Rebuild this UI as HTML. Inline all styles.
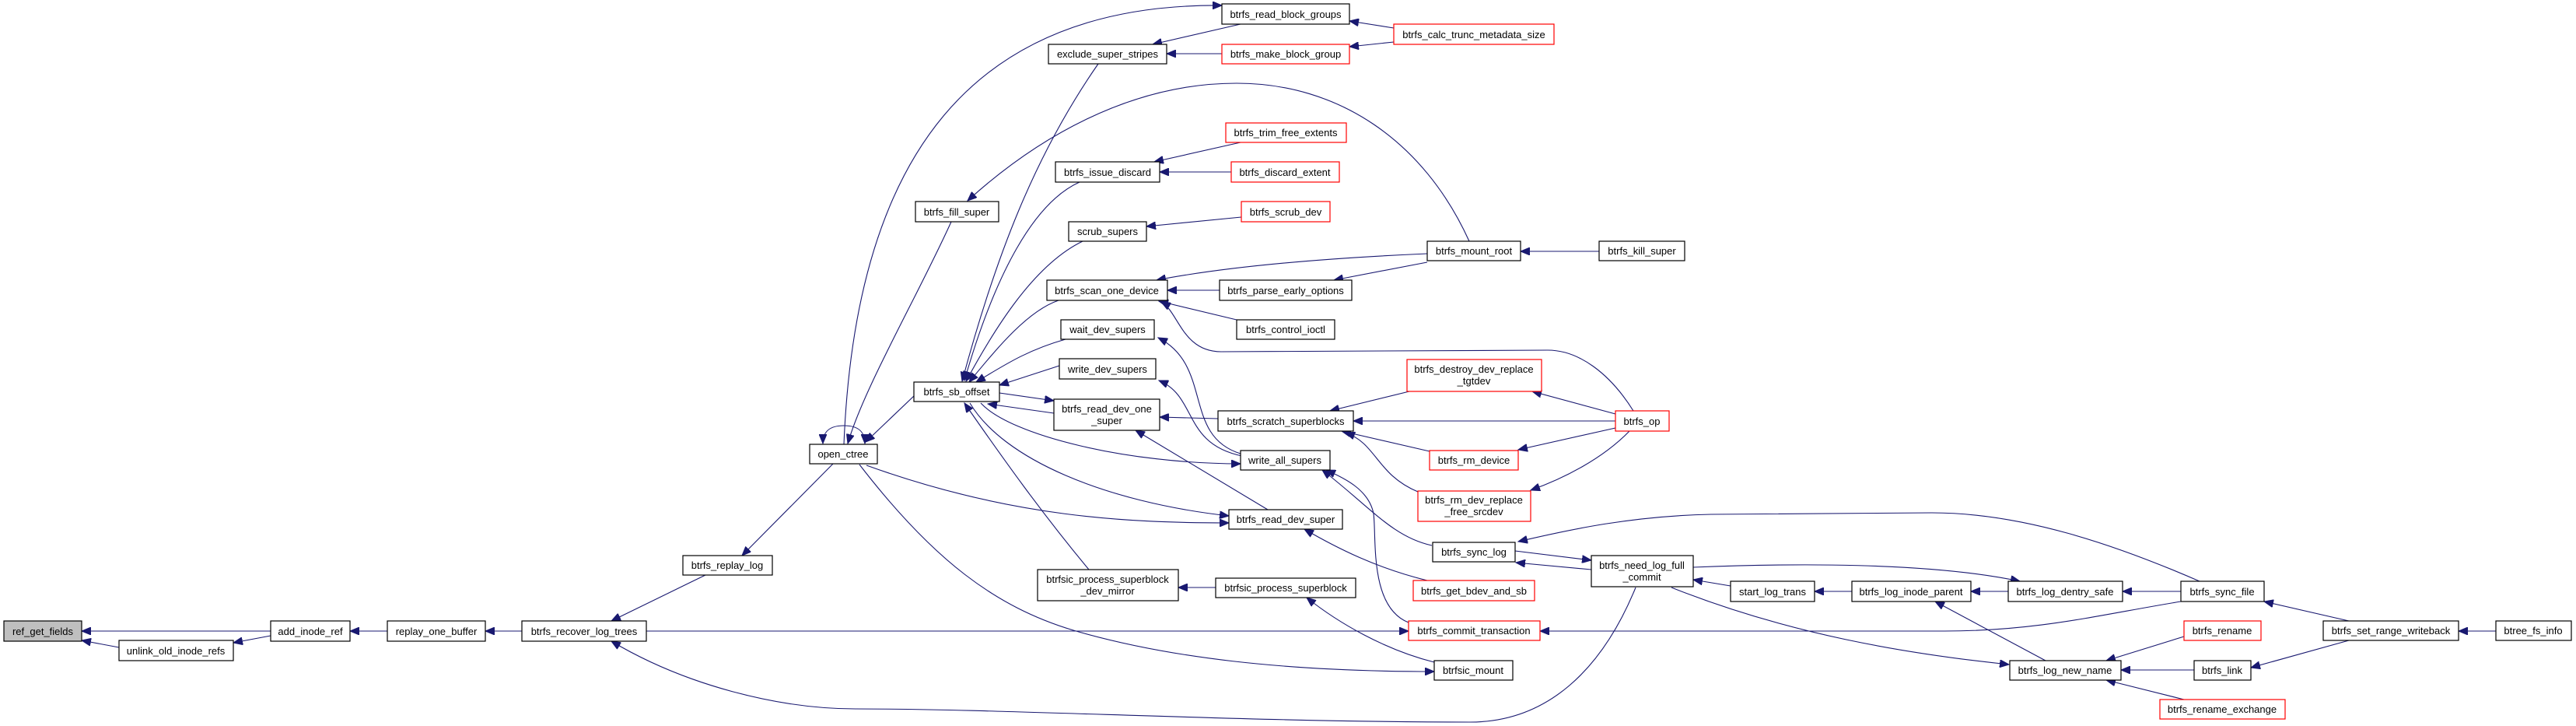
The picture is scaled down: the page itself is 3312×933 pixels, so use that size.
<!DOCTYPE html>
<html><head><meta charset="utf-8"><style>
html,body{margin:0;padding:0;background:#fff;}
svg{display:block;}
text{font-family:"Liberation Sans",Arial,sans-serif;font-size:13px;fill:#000;}
</style></head><body>
<svg width="3312" height="933" viewBox="0 0 3312 933" xmlns="http://www.w3.org/2000/svg">
<defs>
<marker id="a" markerUnits="userSpaceOnUse" markerWidth="14" markerHeight="10" refX="12" refY="5" orient="auto">
<path d="M0,0 L12,5 L0,10 z" fill="#191970" stroke="#191970"/>
</marker>
</defs>
<g fill="none" stroke="#191970" stroke-width="1.1" marker-end="url(#a)">
<path d="M348,811 L105,811"/>
<path d="M153,832 L105,823"/>
<path d="M348,817 L300,826"/>
<path d="M498,811 L450,811"/>
<path d="M671,811 L624,811"/>
<path d="M907,739 L786,798"/>
<path d="M1071,596 L954,714"/>
<path d="M1085,547 C1066,547 1058,555 1058,570"/>
<path d="M1085,547 C1104,547 1112,555 1112,570"/>
<path d="M831,811 L1811,811"/>
<path d="M2103,755 C2060,860 1990,928 1890,928 C1600,928 1300,911 1100,911 C1000,911 880,880 786,824"/>
<path d="M1085,571 C1100,200 1250,4 1571,7"/>
<path d="M1176,508 L1113,568"/>
<path d="M1114,598 C1300,665 1450,672 1580,672"/>
<path d="M1105,597 C1200,720 1280,780 1380,810 C1500,845 1650,863 1844,863"/>
<path d="M1595,31 L1482,57"/>
<path d="M1571,69 L1500,69"/>
<path d="M1792,36 L1735,27"/>
<path d="M1792,54 L1735,60"/>
<path d="M1412,82 C1330,200 1280,330 1237,490"/>
<path d="M1889,310 C1830,180 1720,107 1590,107 C1450,107 1330,180 1244,258"/>
<path d="M1223,285 C1180,380 1110,500 1090,570"/>
<path d="M1595,183 L1484,208"/>
<path d="M1583,221 L1491,221"/>
<path d="M1388,234 C1330,260 1280,350 1240,489"/>
<path d="M1596,279 L1474,291"/>
<path d="M1392,310 C1330,340 1280,420 1242,490"/>
<path d="M1835,326 C1700,332 1580,342 1487,360"/>
<path d="M1568,373 L1501,373"/>
<path d="M1835,337 L1715,360"/>
<path d="M2056,323 L1955,323"/>
<path d="M1590,411 L1490,387"/>
<path d="M2100,528 C2070,480 2030,450 1990,450 L1570,452 C1520,452 1515,400 1493,388"/>
<path d="M1361,386 C1320,400 1280,450 1246,491"/>
<path d="M1370,436 C1320,450 1290,470 1255,491"/>
<path d="M1362,470 L1285,495"/>
<path d="M1285,505 L1355,515"/>
<path d="M1355,531 L1270,519"/>
<path d="M1566,538 L1491,536"/>
<path d="M1595,583 C1520,560 1560,470 1489,434"/>
<path d="M1597,586 C1520,570 1540,510 1490,489"/>
<path d="M1261,518 C1300,560 1450,596 1595,596"/>
<path d="M1247,518 C1290,590 1420,645 1580,663"/>
<path d="M1630,655 L1460,553"/>
<path d="M1835,746 C1770,730 1720,705 1677,680"/>
<path d="M1400,732 C1340,660 1290,590 1240,518"/>
<path d="M1563,755 L1515,755"/>
<path d="M1844,851 C1780,835 1720,800 1680,768"/>
<path d="M1812,503 L1710,528"/>
<path d="M2077,532 L1970,503"/>
<path d="M2077,541 L1740,541"/>
<path d="M1838,580 L1725,554"/>
<path d="M2077,550 L1952,578"/>
<path d="M1823,632 C1770,610 1770,570 1730,556"/>
<path d="M2095,554 C2060,590 2010,615 1968,630"/>
<path d="M1841,701 C1790,690 1760,650 1700,604"/>
<path d="M1811,800 C1760,780 1770,690 1766,660 C1760,630 1730,615 1705,604"/>
<path d="M2046,732 L1949,723"/>
<path d="M1948,708 L2046,720"/>
<path d="M2828,747 C2720,700 2600,659 2484,659 L2200,661 C2100,663 2020,680 1952,696"/>
<path d="M2804,773 C2700,790 2620,811 2500,811 L1980,811"/>
<path d="M2177,729 C2300,724 2480,722 2597,747"/>
<path d="M2225,753 L2177,745"/>
<path d="M2149,755 C2300,815 2450,840 2583,854"/>
<path d="M2381,760 L2333,760"/>
<path d="M2582,760 L2534,760"/>
<path d="M2804,760 L2729,760"/>
<path d="M2630,849 L2488,773"/>
<path d="M3020,798 L2911,773"/>
<path d="M3209,811 L3161,811"/>
<path d="M3020,823 L2894,858"/>
<path d="M2821,861 L2727,861"/>
<path d="M2808,818 L2708,849"/>
<path d="M2808,899 L2708,874"/>
</g>
<g stroke-width="1.2" fill="#fff">
<rect x="5" y="798" width="100" height="26" fill="#bfbfbf" stroke="#000"/>
<rect x="153" y="823" width="147" height="26" stroke="#000"/>
<rect x="348" y="798" width="102" height="26" stroke="#000"/>
<rect x="498" y="798" width="126" height="26" stroke="#000"/>
<rect x="671" y="798" width="160" height="26" stroke="#000"/>
<rect x="878" y="714" width="115" height="25" stroke="#000"/>
<rect x="1041" y="571" width="87" height="25" stroke="#000"/>
<rect x="1571" y="5" width="164" height="26" stroke="#000"/>
<rect x="1348" y="57" width="152" height="25" stroke="#000"/>
<rect x="1571" y="57" width="164" height="25" stroke="#f00"/>
<rect x="1792" y="31" width="206" height="26" stroke="#f00"/>
<rect x="1576" y="158" width="155" height="25" stroke="#f00"/>
<rect x="1357" y="208" width="134" height="26" stroke="#000"/>
<rect x="1583" y="208" width="139" height="26" stroke="#f00"/>
<rect x="1177" y="259" width="107" height="26" stroke="#000"/>
<rect x="1596" y="259" width="114" height="26" stroke="#f00"/>
<rect x="1374" y="285" width="100" height="25" stroke="#000"/>
<rect x="1835" y="310" width="120" height="25" stroke="#000"/>
<rect x="2056" y="310" width="110" height="25" stroke="#000"/>
<rect x="1346" y="360" width="155" height="26" stroke="#000"/>
<rect x="1568" y="360" width="170" height="26" stroke="#000"/>
<rect x="1590" y="411" width="126" height="25" stroke="#000"/>
<rect x="1364" y="411" width="120" height="25" stroke="#000"/>
<rect x="1362" y="461" width="124" height="26" stroke="#000"/>
<rect x="1175" y="491" width="110" height="25" stroke="#000"/>
<rect x="1355" y="513" width="136" height="40" stroke="#000"/>
<rect x="1566" y="528" width="174" height="26" stroke="#000"/>
<rect x="1809" y="462" width="173" height="41" stroke="#f00"/>
<rect x="2077" y="528" width="69" height="26" stroke="#f00"/>
<rect x="1838" y="579" width="114" height="25" stroke="#f00"/>
<rect x="1595" y="579" width="115" height="25" stroke="#000"/>
<rect x="1823" y="631" width="145" height="39" stroke="#f00"/>
<rect x="1580" y="655" width="146" height="25" stroke="#000"/>
<rect x="1842" y="697" width="106" height="25" stroke="#000"/>
<rect x="2046" y="714" width="131" height="40" stroke="#000"/>
<rect x="1817" y="746" width="156" height="26" stroke="#f00"/>
<rect x="1334" y="732" width="181" height="40" stroke="#000"/>
<rect x="1563" y="743" width="180" height="25" stroke="#000"/>
<rect x="1811" y="798" width="169" height="25" stroke="#f00"/>
<rect x="1844" y="849" width="101" height="25" stroke="#000"/>
<rect x="2225" y="747" width="108" height="26" stroke="#000"/>
<rect x="2381" y="747" width="153" height="26" stroke="#000"/>
<rect x="2582" y="747" width="147" height="26" stroke="#000"/>
<rect x="2804" y="747" width="107" height="26" stroke="#000"/>
<rect x="2808" y="798" width="99" height="25" stroke="#f00"/>
<rect x="2987" y="798" width="174" height="25" stroke="#000"/>
<rect x="3209" y="798" width="97" height="25" stroke="#000"/>
<rect x="2584" y="849" width="143" height="25" stroke="#000"/>
<rect x="2821" y="849" width="73" height="25" stroke="#000"/>
<rect x="2777" y="899" width="161" height="25" stroke="#f00"/>
</g>
<g text-anchor="middle">
<text x="55" y="816">ref_get_fields</text>
<text x="226" y="841">unlink_old_inode_refs</text>
<text x="399" y="816">add_inode_ref</text>
<text x="561" y="816">replay_one_buffer</text>
<text x="751" y="816">btrfs_recover_log_trees</text>
<text x="935" y="731">btrfs_replay_log</text>
<text x="1084" y="588">open_ctree</text>
<text x="1653" y="23">btrfs_read_block_groups</text>
<text x="1424" y="74">exclude_super_stripes</text>
<text x="1653" y="74">btrfs_make_block_group</text>
<text x="1895" y="49">btrfs_calc_trunc_metadata_size</text>
<text x="1653" y="175">btrfs_trim_free_extents</text>
<text x="1424" y="226">btrfs_issue_discard</text>
<text x="1652" y="226">btrfs_discard_extent</text>
<text x="1230" y="277">btrfs_fill_super</text>
<text x="1653" y="277">btrfs_scrub_dev</text>
<text x="1424" y="302">scrub_supers</text>
<text x="1895" y="327">btrfs_mount_root</text>
<text x="2111" y="327">btrfs_kill_super</text>
<text x="1423" y="378">btrfs_scan_one_device</text>
<text x="1653" y="378">btrfs_parse_early_options</text>
<text x="1653" y="428">btrfs_control_ioctl</text>
<text x="1424" y="428">wait_dev_supers</text>
<text x="1424" y="479">write_dev_supers</text>
<text x="1230" y="508">btrfs_sb_offset</text>
<text x="1423" y="530">btrfs_read_dev_one</text>
<text x="1423" y="545">_super</text>
<text x="1653" y="546">btrfs_scratch_superblocks</text>
<text x="1895" y="479">btrfs_destroy_dev_replace</text>
<text x="1895" y="494">_tgtdev</text>
<text x="2111" y="546">btrfs_op</text>
<text x="1895" y="596">btrfs_rm_device</text>
<text x="1652" y="596">write_all_supers</text>
<text x="1895" y="647">btrfs_rm_dev_replace</text>
<text x="1895" y="662">_free_srcdev</text>
<text x="1653" y="672">btrfs_read_dev_super</text>
<text x="1895" y="714">btrfs_sync_log</text>
<text x="2111" y="731">btrfs_need_log_full</text>
<text x="2111" y="746">_commit</text>
<text x="1895" y="764">btrfs_get_bdev_and_sb</text>
<text x="1424" y="749">btrfsic_process_superblock</text>
<text x="1424" y="764">_dev_mirror</text>
<text x="1653" y="760">btrfsic_process_superblock</text>
<text x="1895" y="815">btrfs_commit_transaction</text>
<text x="1894" y="866">btrfsic_mount</text>
<text x="2279" y="765">start_log_trans</text>
<text x="2457" y="765">btrfs_log_inode_parent</text>
<text x="2655" y="765">btrfs_log_dentry_safe</text>
<text x="2857" y="765">btrfs_sync_file</text>
<text x="2857" y="815">btrfs_rename</text>
<text x="3074" y="815">btrfs_set_range_writeback</text>
<text x="3257" y="815">btree_fs_info</text>
<text x="2655" y="866">btrfs_log_new_name</text>
<text x="2857" y="866">btrfs_link</text>
<text x="2857" y="916">btrfs_rename_exchange</text>
</g>
</svg>
</body></html>
